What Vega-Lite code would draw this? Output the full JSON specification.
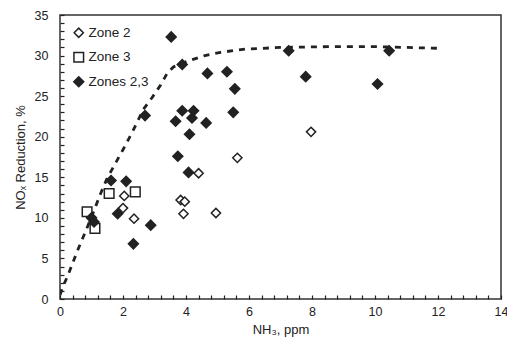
{
  "$schema": "https://vega.github.io/schema/vega-lite/v6.json",
  "width": 441,
  "height": 284,
  "autosize": {"type": "none"},
  "padding": {"left": 60, "top": 15, "right": 6, "bottom": 48},
  "background": "white",
  "config": {
    "font": "Liberation Sans",
    "view": {"stroke": "#333", "strokeWidth": 1.5},
    "axis": {"grid": false, "domain": false, "labelColor": "#222", "titleColor": "#222", "labelFontSize": 12.5, "titleFontSize": 13, "titleFontWeight": "normal", "labelFont": "Liberation Sans", "titleFont": "Liberation Sans", "labelOverlap": false, "zindex": 1}
  },
  "datasets": {
    "pts": [
      {"nh3": 2.04, "nox": 12.7, "zone": "Zone 2"},
      {"nh3": 2.0, "nox": 11.2, "zone": "Zone 2"},
      {"nh3": 2.35, "nox": 9.9, "zone": "Zone 2"},
      {"nh3": 3.83, "nox": 12.2, "zone": "Zone 2"},
      {"nh3": 3.96, "nox": 12.0, "zone": "Zone 2"},
      {"nh3": 3.92, "nox": 10.5, "zone": "Zone 2"},
      {"nh3": 4.4, "nox": 15.5, "zone": "Zone 2"},
      {"nh3": 4.95, "nox": 10.6, "zone": "Zone 2"},
      {"nh3": 5.63, "nox": 17.4, "zone": "Zone 2"},
      {"nh3": 7.97, "nox": 20.6, "zone": "Zone 2"},
      {"nh3": 0.86, "nox": 10.75, "zone": "Zone 3"},
      {"nh3": 1.11, "nox": 8.7, "zone": "Zone 3"},
      {"nh3": 1.56, "nox": 13.0, "zone": "Zone 3"},
      {"nh3": 2.39, "nox": 13.2, "zone": "Zone 3"},
      {"nh3": 1.0, "nox": 10.0, "zone": "Zones 2,3"},
      {"nh3": 1.08, "nox": 9.5, "zone": "Zones 2,3"},
      {"nh3": 1.62, "nox": 14.6, "zone": "Zones 2,3"},
      {"nh3": 2.1, "nox": 14.5, "zone": "Zones 2,3"},
      {"nh3": 1.83, "nox": 10.5, "zone": "Zones 2,3"},
      {"nh3": 2.33, "nox": 6.8, "zone": "Zones 2,3"},
      {"nh3": 2.88, "nox": 9.1, "zone": "Zones 2,3"},
      {"nh3": 2.7, "nox": 22.6, "zone": "Zones 2,3"},
      {"nh3": 3.74, "nox": 17.6, "zone": "Zones 2,3"},
      {"nh3": 4.08, "nox": 15.6, "zone": "Zones 2,3"},
      {"nh3": 3.53, "nox": 32.3, "zone": "Zones 2,3"},
      {"nh3": 3.88, "nox": 28.9, "zone": "Zones 2,3"},
      {"nh3": 4.68, "nox": 27.8, "zone": "Zones 2,3"},
      {"nh3": 5.3, "nox": 28.0, "zone": "Zones 2,3"},
      {"nh3": 5.55, "nox": 25.9, "zone": "Zones 2,3"},
      {"nh3": 3.88, "nox": 23.2, "zone": "Zones 2,3"},
      {"nh3": 4.24, "nox": 23.2, "zone": "Zones 2,3"},
      {"nh3": 3.67, "nox": 21.9, "zone": "Zones 2,3"},
      {"nh3": 4.19, "nox": 22.3, "zone": "Zones 2,3"},
      {"nh3": 4.64, "nox": 21.7, "zone": "Zones 2,3"},
      {"nh3": 5.5, "nox": 23.0, "zone": "Zones 2,3"},
      {"nh3": 4.11, "nox": 20.3, "zone": "Zones 2,3"},
      {"nh3": 7.26, "nox": 30.6, "zone": "Zones 2,3"},
      {"nh3": 7.8, "nox": 27.4, "zone": "Zones 2,3"},
      {"nh3": 10.45, "nox": 30.6, "zone": "Zones 2,3"},
      {"nh3": 10.08, "nox": 26.5, "zone": "Zones 2,3"}
    ],
    "curve": [
      {"nh3": 0.0, "nox": 0.5},
      {"nh3": 0.1, "nox": 1.6},
      {"nh3": 0.25, "nox": 2.9},
      {"nh3": 0.4, "nox": 4.4},
      {"nh3": 0.55, "nox": 5.9},
      {"nh3": 0.7, "nox": 7.3},
      {"nh3": 0.85, "nox": 8.7},
      {"nh3": 1.0, "nox": 10.1},
      {"nh3": 1.15, "nox": 11.6},
      {"nh3": 1.3, "nox": 13.1},
      {"nh3": 1.5, "nox": 14.9},
      {"nh3": 1.7, "nox": 16.3},
      {"nh3": 2.0, "nox": 18.4},
      {"nh3": 2.3, "nox": 20.6},
      {"nh3": 2.65, "nox": 23.4},
      {"nh3": 2.92, "nox": 24.8},
      {"nh3": 3.2, "nox": 26.4},
      {"nh3": 3.4, "nox": 27.8},
      {"nh3": 3.6, "nox": 28.6},
      {"nh3": 3.9, "nox": 29.1},
      {"nh3": 4.2, "nox": 29.5},
      {"nh3": 4.6, "nox": 30.0},
      {"nh3": 5.1, "nox": 30.4},
      {"nh3": 5.9, "nox": 30.8},
      {"nh3": 7.0, "nox": 31.0},
      {"nh3": 8.5, "nox": 31.1},
      {"nh3": 10.0, "nox": 31.1},
      {"nh3": 11.0, "nox": 31.0},
      {"nh3": 12.0, "nox": 30.9}
    ]
  },
  "encoding": {
    "x": {
      "field": "nh3", "type": "quantitative",
      "scale": {"domain": [0, 14], "nice": false, "zero": true},
      "axis": {
        "title": "NH₃, ppm",
        "values": [0,0.4,0.8,1.2,1.6,2,2.4,2.8,3.2,3.6,4,4.4,4.8,5.2,5.6,6,6.4,6.8,7.2,7.6,8,8.4,8.8,9.2,9.6,10,10.4,10.8,11.2,11.6,12,12.4,12.8,13.2,13.6,14],
        "labelExpr": "abs(datum.value/2 - round(datum.value/2)) < 0.001 ? '' + round(datum.value) : ''",
        "ticks": true,
        "tickColor": "#222",
        "tickOpacity": 1,
        "offset": -4,
        "tickSize": 4,
        "tickWidth": 1.2,
        "labelPadding": 6,
        "titlePadding": 6,
        "labelFlush": false,
        "labelOverlap": false
      }
    },
    "y": {
      "field": "nox", "type": "quantitative",
      "scale": {"domain": [0, 35], "nice": false},
      "axis": {
        "title": "NOₓ Reduction, %",
        "values": [0,1,2,3,4,5,6,7,8,9,10,11,12,13,14,15,16,17,18,19,20,21,22,23,24,25,26,27,28,29,30,31,32,33,34,35],
        "labelExpr": "datum.value % 5 === 0 ? '' + round(datum.value) : ''",
        "ticks": true,
        "tickColor": "#222",
        "tickOpacity": 1,
        "offset": -4,
        "tickSize": 4,
        "tickWidth": 1.2,
        "labelPadding": 12,
        "titlePadding": 7,
        "labelFlush": false,
        "labelOverlap": false
      }
    }
  },
  "layer": [
    {
      "data": {"name": "curve"},
      "mark": {"type": "line", "color": "#222", "strokeWidth": 2.8, "strokeDash": [6, 6], "clip": true}
    },
    {
      "data": {"name": "pts"},
      "mark": {"type": "point", "filled": true, "strokeWidth": 1.5, "opacity": 1},
      "encoding": {
        "stroke": {
          "field": "zone", "type": "nominal",
          "scale": {"domain": ["Zone 2", "Zone 3", "Zones 2,3"], "range": ["#222", "#222", "#222"]},
          "legend": {
            "title": null, "orient": "none", "legendX": 12, "legendY": 11,
            "labelFontSize": 13.5, "labelFont": "Liberation Sans", "labelColor": "#222",
            "rowPadding": 7.5, "labelOffset": 3, "symbolStrokeWidth": 1.5
          }
        },
        "shape": {
          "field": "zone", "type": "nominal",
          "scale": {"domain": ["Zone 2", "Zone 3", "Zones 2,3"], "range": ["diamond", "square", "diamond"]},
          "legend": {
            "title": null, "orient": "none", "legendX": 12, "legendY": 11,
            "labelFontSize": 13.5, "labelFont": "Liberation Sans", "labelColor": "#222",
            "rowPadding": 7.5, "labelOffset": 3, "symbolStrokeWidth": 1.5
          }
        },
        "fill": {
          "field": "zone", "type": "nominal",
          "scale": {"domain": ["Zone 2", "Zone 3", "Zones 2,3"], "range": ["white", "white", "#222"]},
          "legend": {
            "title": null, "orient": "none", "legendX": 12, "legendY": 11,
            "labelFontSize": 13.5, "labelFont": "Liberation Sans", "labelColor": "#222",
            "rowPadding": 7.5, "labelOffset": 3, "symbolStrokeWidth": 1.5
          }
        },
        "size": {
          "field": "zone", "type": "nominal",
          "scale": {"domain": ["Zone 2", "Zone 3", "Zones 2,3"], "range": [85, 100, 125]},
          "legend": {
            "title": null, "orient": "none", "legendX": 12, "legendY": 11,
            "labelFontSize": 13.5, "labelFont": "Liberation Sans", "labelColor": "#222",
            "rowPadding": 7.5, "labelOffset": 3, "symbolStrokeWidth": 1.5
          }
        }
      }
    }
  ]
}
